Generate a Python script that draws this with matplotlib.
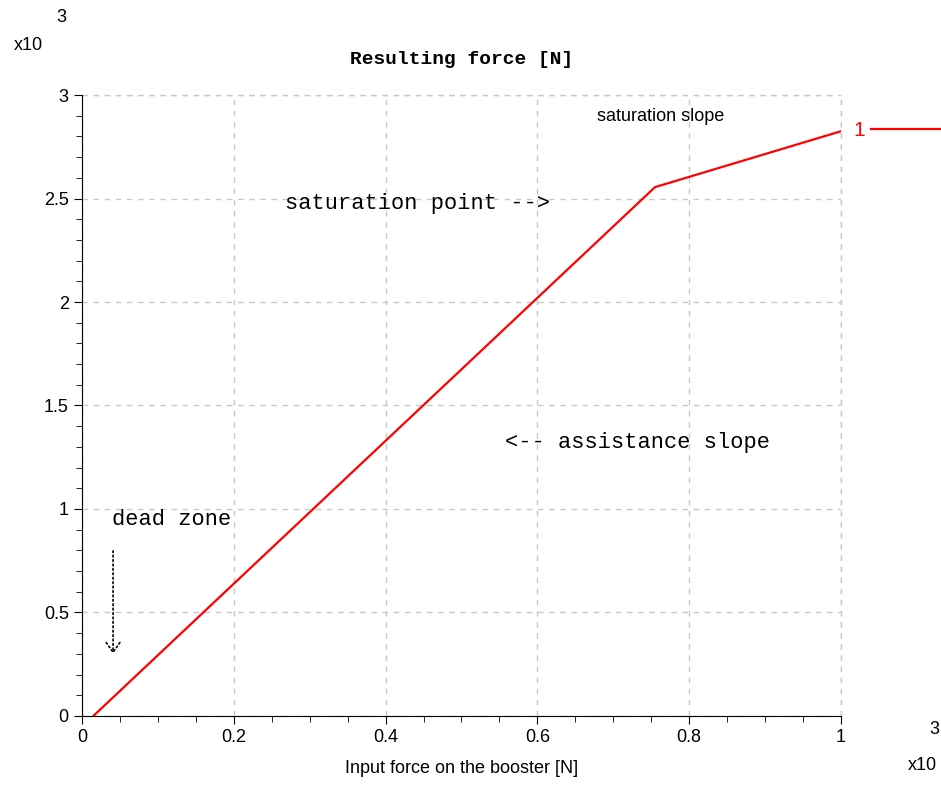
import matplotlib
matplotlib.use("Agg")
import matplotlib.pyplot as plt
from matplotlib.ticker import FuncFormatter, MultipleLocator

# booster characteristic, values in N
input_force = [15, 755, 1000]
resulting_force = [0, 2555, 2825]
series_label = "1"

x_ticks = [0, 200, 400, 600, 800, 1000]
y_ticks = [0, 500, 1000, 1500, 2000, 2500, 3000]

plt.rcParams["font.family"] = ["Liberation Sans", "DejaVu Sans"]
mono = "Liberation Mono"

fig = plt.figure(figsize=(9.41, 7.86), dpi=100)
ax = fig.add_axes([0.0871, 0.0891, 0.8066, 0.79])

ax.plot(input_force, resulting_force, color="red", linewidth=1.6, label=series_label)

ax.set_xlim(0, 1000)
ax.set_ylim(0, 3000)
ax.set_xticks(x_ticks)
ax.set_yticks(y_ticks)
ax.xaxis.set_minor_locator(MultipleLocator(50))
ax.yaxis.set_minor_locator(MultipleLocator(100))
fmt = FuncFormatter(lambda v, pos: f"{v / 1000:g}")
ax.xaxis.set_major_formatter(fmt)
ax.yaxis.set_major_formatter(fmt)
ax.tick_params(which="both", direction="out", labelsize=13, color="black")
ax.tick_params(which="major", length=6)
ax.tick_params(which="minor", length=4)

for side in ["top", "right"]:
    ax.spines[side].set_visible(False)
ax.grid(True, which="major", color="#c8c8c8", linestyle=(0, (4, 4)), linewidth=1)
ax.axhline(3000, color="#c8c8c8", linestyle=(0, (4, 4)), linewidth=1, clip_on=False)
ax.axvline(1000, color="#c8c8c8", linestyle=(0, (4, 4)), linewidth=1, clip_on=False)

ax.set_xlabel("Input force on the booster [N]", fontsize=13, labelpad=10)
ax.set_title("Resulting force [N]", fontfamily=mono, fontweight="bold",
             fontsize=14, pad=22)

# annotations
ax.text(267, 2478, "saturation point -->", fontfamily=mono, fontsize=15.8, va="center")
ax.text(557, 1319, "<-- assistance slope", fontfamily=mono, fontsize=15.8, va="center")
ax.text(39, 947, "dead zone", fontfamily=mono, fontsize=15.8, va="center")
ax.text(678, 2894, "saturation slope", fontsize=13, va="center")
ax.annotate("", xy=(41, 287), xytext=(41, 811),
            arrowprops=dict(arrowstyle="->,head_length=0.5,head_width=0.35",
                            linestyle=":", color="black",
                            linewidth=1.2, mutation_scale=14))

# scale factors
fig.text(28 / 941, 1 - 45 / 786, "x10", fontsize=13, ha="center", va="center")
fig.text(61 / 941, 1 - 18 / 786, "3", fontsize=13, ha="center", va="center")
fig.text(922 / 941, 1 - 765 / 786, "x10", fontsize=13, ha="center", va="center")
fig.text(934 / 941, 1 - 730 / 786, "3", fontsize=13, ha="center", va="center")

ax.legend(loc="center left", bbox_to_anchor=(1.005, 0.943), frameon=False,
          markerfirst=False, labelcolor="linecolor", fontsize=15,
          handlelength=4.5, handletextpad=0.3, borderaxespad=0)

fig.savefig("out.png", dpi=100)
